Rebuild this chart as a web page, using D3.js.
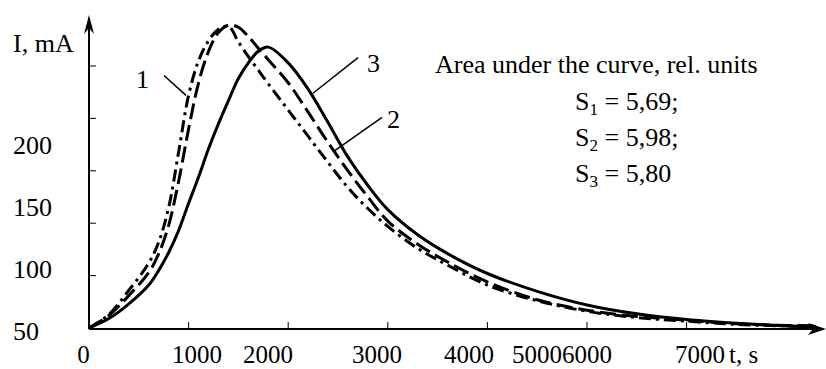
<!DOCTYPE html>
<html>
<head>
<meta charset="utf-8">
<script src="https://cdn.jsdelivr.net/npm/d3@7"></script>
<style>
    body { margin: 0; background: #fff; }
    text { font-family: "Liberation Serif", "Times New Roman", serif; font-size: 26px; fill: #000; }
</style>
</head>
<body>
<div id="chart"></div>
<script>
// time grid, s
var times = [0, 200, 400, 600, 700, 800, 900, 1000, 1100, 1200, 1300, 1400, 1500, 1600, 1700, 1800,
    2000, 2200, 2400, 2600, 2800, 3000, 3300, 3600, 4000, 4500, 5000, 5500, 6000, 6500, 7000, 7300];
// curve 1 (dash-dot), curve 2 (dashed), curve 3 (solid), mA
var curve1 = [50, 63, 86, 112, 132, 165, 218, 272, 305, 324, 335, 338, 323, 309, 296, 283,
    258, 233, 208, 184, 164, 147, 126, 110, 91, 76, 66, 60, 56.5, 53.4, 52, 51.4];
var curve2 = [50, 62, 81, 103, 121, 148, 190, 240, 284, 314, 332, 339, 337, 328, 317, 306,
    284, 256, 227, 200, 175, 152, 130, 113, 94, 77, 67, 61, 57.5, 54, 52.5, 52];
var curve3 = [50, 59, 73, 91, 105, 122, 143, 169, 194, 221, 245, 267, 288, 303, 314, 318,
    303, 278, 246, 213, 186, 163, 139, 121, 102, 85, 72, 63.5, 58, 54.5, 52, 51];

var xTicks = [1000, 2000, 3000, 4000, 5000, 6000];
var yTicks = [100, 150, 200, 250, 300];
var xLabels = ['0', '1000', '2000', '3000', '4000', '5000', '6000', '7000'];
var xLabelAt = [-55, 1084, 1797, 2892, 3815, 4498, 5000, 6135];
var yLabels = ['50', '100', '150', '200'];
var yLabelAt = [38.5, 97.7, 156.9, 216];

var curveLabels = [
    { text: '1', t: 472, v: 279, from: [753, 291], to: [974, 272] },
    { text: '2', t: 2992, v: 241, from: [2450, 218], to: [2942, 251] },
    { text: '3', t: 2791, v: 294, from: [2249, 274], to: [2701, 308] }
];

var width = 826, height = 369;
var x = d3.scaleLinear().domain([0, 6000]).range([89, 686.6]);
var y = d3.scaleLinear().domain([50, 300]).range([328, 66]);

var svg = d3.select('#chart').append('svg')
    .attr('width', width)
    .attr('height', height);

var axisY0 = 329, axisX0 = x(0);

// axes
svg.append('line').attr('x1', axisX0).attr('y1', axisY0).attr('x2', 818).attr('y2', axisY0)
    .attr('stroke', '#000').attr('stroke-width', 2);
svg.append('line').attr('x1', axisX0).attr('y1', axisY0).attr('x2', axisX0).attr('y2', 22)
    .attr('stroke', '#000').attr('stroke-width', 2);
// arrow heads
svg.append('path')
    .attr('d', 'M826,' + axisY0 + ' L808,' + (axisY0 - 6) + ' L813,' + axisY0 + ' L808,' + (axisY0 + 6) + 'Z')
    .attr('fill', '#000');
svg.append('path')
    .attr('d', 'M' + axisX0 + ',15 L' + (axisX0 - 5) + ',34 L' + axisX0 + ',28 L' + (axisX0 + 5) + ',34Z')
    .attr('fill', '#000');

svg.selectAll('.xtick').data(xTicks).enter().append('line')
    .attr('x1', function (d) { return x(d); }).attr('x2', function (d) { return x(d); })
    .attr('y1', axisY0).attr('y2', axisY0 - 7)
    .attr('stroke', '#000').attr('stroke-width', 1);
svg.selectAll('.ytick').data(yTicks).enter().append('line')
    .attr('y1', function (d) { return y(d); }).attr('y2', function (d) { return y(d); })
    .attr('x1', axisX0).attr('x2', axisX0 + 7)
    .attr('stroke', '#000').attr('stroke-width', 1);

svg.selectAll('.xlabel').data(xLabels).enter().append('text')
    .attr('x', function (d, i) { return x(xLabelAt[i]); })
    .attr('y', 363)
    .attr('text-anchor', 'middle')
    .style('font-size', '25px')
    .text(function (d) { return d; });
svg.append('text').attr('x', 729).attr('y', 363).style('font-size', '25px').text('t, s');

svg.selectAll('.ylabel').data(yLabels).enter().append('text')
    .attr('x', 13)
    .attr('y', function (d, i) { return y(yLabelAt[i]); })
    .text(function (d) { return d; });
svg.append('text').attr('x', 13).attr('y', 52).text('I, mA');

// curves
var line = d3.line()
    .x(function (d) { return x(d[0]); })
    .y(function (d) { return y(d[1]); })
    .curve(d3.curveCatmullRom.alpha(0.5));

var series = [
    { values: curve3, dash: null },
    { values: curve2, dash: '16,6' },
    { values: curve1, dash: '12,5,3,5' }
];
series.forEach(function (s) {
    svg.append('path')
        .datum(times.map(function (t, i) { return [t, s.values[i]]; }))
        .attr('d', line)
        .attr('fill', 'none')
        .attr('stroke', '#000')
        .attr('stroke-width', 3)
        .attr('stroke-dasharray', s.dash);
});

// curve numbers with leader lines
curveLabels.forEach(function (c) {
    svg.append('line')
        .attr('x1', x(c.from[0])).attr('y1', y(c.from[1]))
        .attr('x2', x(c.to[0])).attr('y2', y(c.to[1]))
        .attr('stroke', '#000').attr('stroke-width', 1.5);
    svg.append('text').attr('x', x(c.t)).attr('y', y(c.v)).text(c.text);
});

// area note
svg.append('text').attr('x', 435).attr('y', 73).text('Area under the curve, rel. units');
var areas = [['1', '5,69;'], ['2', '5,98;'], ['3', '5,80']];
var areaY = [110, 146, 182];
areas.forEach(function (a, i) {
    var t = svg.append('text').attr('x', 575).attr('y', areaY[i]);
    t.append('tspan').text('S');
    t.append('tspan').attr('dy', 5).style('font-size', '17px').text(a[0]);
    t.append('tspan').attr('dy', -5).text(' = ' + a[1]);
});
</script>
</body>
</html>
